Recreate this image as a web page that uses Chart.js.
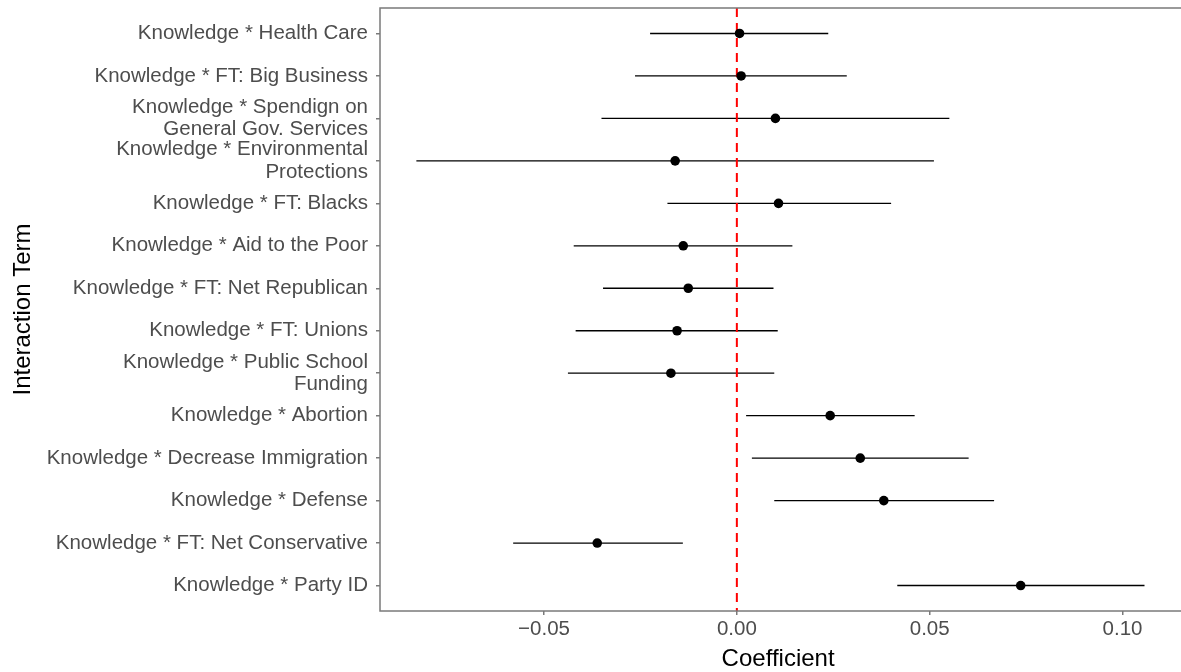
<!DOCTYPE html>
<html>
<head>
<meta charset="utf-8">
<script src="https://cdn.jsdelivr.net/npm/chart.js@4.4.1/dist/chart.umd.min.js"></script>
<style>
  html, body { margin: 0; padding: 0; background: #fff; overflow: hidden; }
  canvas { display: block; }
</style>
</head>
<body>
<canvas id="chart" width="1181" height="672"></canvas>
<script>
// Interaction terms, listed top to bottom as in the figure
const terms = [
    'Knowledge * Health Care',
    'Knowledge * FT: Big Business',
    ['Knowledge * Spendign on', 'General Gov. Services'],
    ['Knowledge * Environmental', 'Protections'],
    'Knowledge * FT: Blacks',
    'Knowledge * Aid to the Poor',
    'Knowledge * FT: Net Republican',
    'Knowledge * FT: Unions',
    ['Knowledge * Public School', 'Funding'],
    'Knowledge * Abortion',
    'Knowledge * Decrease Immigration',
    'Knowledge * Defense',
    'Knowledge * FT: Net Conservative',
    'Knowledge * Party ID'
];
const coef  = [0.0007, 0.0011, 0.0100, -0.0160, 0.0108, -0.0139, -0.0126, -0.0155, -0.0171, 0.0242, 0.0320, 0.0381, -0.0362, 0.0736];
const lower = [-0.0225, -0.0264, -0.0351, -0.0831, -0.0180, -0.0423, -0.0347, -0.0418, -0.0438, 0.0024, 0.0039, 0.0097, -0.0580, 0.0416];
const upper = [0.0237, 0.0285, 0.0551, 0.0511, 0.0400, 0.0144, 0.0095, 0.0106, 0.0097, 0.0461, 0.0601, 0.0667, -0.0140, 0.1057];
const xTicks = [-0.05, 0.00, 0.05, 0.10];

const axisGrey = '#7a7a7a';
const labelGrey = '#4d4d4d';
const FONT = "'Liberation Sans', Arial, Helvetica, sans-serif";

// row positions 1..n (reversed axis puts the first term on top)
const rowPos = terms.map((t, i) => i + 1);

const datasets = [];

// points (index 0 -> drawn on top)
datasets.push({
    type: 'scatter',
    data: coef.map((c, i) => ({ x: c, y: rowPos[i] })),
    backgroundColor: '#000',
    borderColor: '#000',
    pointRadius: 4.8,
    pointHoverRadius: 4.8,
    borderWidth: 0
});

// zero reference line
datasets.push({
    type: 'line',
    data: [{ x: 0, y: 0.4 }, { x: 0, y: terms.length + 0.6 }],
    borderColor: '#ff0000',
    borderWidth: 2,
    borderDash: [9, 6],
    pointRadius: 0,
    fill: false
});

// confidence intervals
lower.forEach((lo, i) => {
    datasets.push({
        type: 'line',
        data: [{ x: lo, y: rowPos[i] }, { x: upper[i], y: rowPos[i] }],
        borderColor: '#000',
        borderWidth: 1.3,
        pointRadius: 0,
        fill: false
    });
});

const framePlugin = {
    id: 'frame',
    afterDraw(chart) {
        const { ctx, chartArea: a } = chart;
        ctx.save();
        ctx.strokeStyle = axisGrey;
        ctx.lineWidth = 1.5;
        ctx.strokeRect(a.left, a.top, a.right - a.left + 20, a.bottom - a.top);
        ctx.restore();
    }
};

new Chart(document.getElementById('chart'), {
    type: 'scatter',
    data: { datasets },
    plugins: [framePlugin],
    options: {
        responsive: false,
        animation: false,
        events: [],
        layout: { padding: { top: 8, right: 0, bottom: 0, left: 0 } },
        plugins: { legend: { display: false }, tooltip: { enabled: false } },
        scales: {
            x: {
                type: 'linear',
                min: -0.09253,
                max: 0.11392,
                afterBuildTicks: s => { s.ticks = xTicks.map(v => ({ value: v })); },
                afterFit: s => { s.height = 61; s.paddingLeft = 0; s.paddingRight = 0; },
                ticks: {
                    color: labelGrey,
                    font: { family: FONT, size: 20.5 },
                    padding: 2,
                    maxRotation: 0,
                    autoSkip: false,
                    callback: v => (v < 0 ? '\u2212' : '') + Math.abs(v).toFixed(2)
                },
                grid: { drawOnChartArea: false, drawTicks: true, tickLength: 4, color: axisGrey, lineWidth: 1.5 },
                border: { display: false },
                title: { display: true, text: 'Coefficient', color: '#000', font: { family: FONT, size: 24 }, padding: { top: 0, bottom: -2 } }
            },
            y: {
                type: 'linear',
                reverse: true,
                min: 0.4,
                max: terms.length + 0.6,
                afterBuildTicks: s => { s.ticks = rowPos.map(v => ({ value: v })); },
                afterFit: s => { s.width = 380; s.paddingTop = 0; s.paddingBottom = 0; },
                ticks: {
                    color: labelGrey,
                    font: { family: FONT, size: 20.5, lineHeight: 1.08 },
                    padding: 8,
                    autoSkip: false,
                    callback: v => terms[v - 1]
                },
                grid: { drawOnChartArea: false, drawTicks: true, tickLength: 4, color: axisGrey, lineWidth: 1.5 },
                border: { display: false },
                title: { display: true, text: 'Interaction Term', color: '#000', font: { family: FONT, size: 24 }, padding: { top: 9, bottom: 0 } }
            }
        }
    }
});
</script>
</body>
</html>
